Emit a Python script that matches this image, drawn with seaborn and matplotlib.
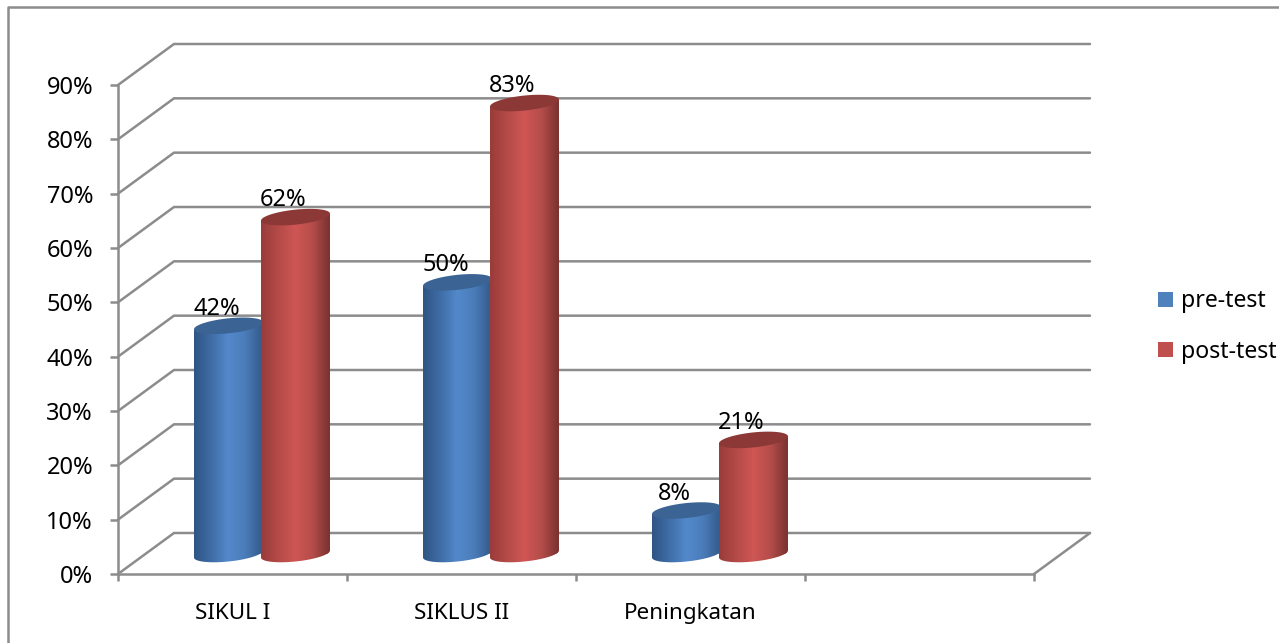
import numpy as np
import pandas as pd
import matplotlib
matplotlib.use("Agg")
import matplotlib.pyplot as plt
from matplotlib.lines import Line2D
from matplotlib.patches import Patch
from matplotlib.path import Path
import matplotlib.transforms as mtrans
import seaborn as sns

categories = ["SIKUL I", "SIKLUS II", "Peningkatan"]
axis_slots = categories + [""]
series_names = ["pre-test", "post-test"]
pre_test = [42, 50, 8]
post_test = [62, 83, 21]
y_ticks = list(range(0, 100, 10))

df = pd.DataFrame({
    "category": categories * 2,
    "series": [series_names[0]] * 3 + [series_names[1]] * 3,
    "value": pre_test + post_test,
})

sns.set_theme(style="white")
plt.rcParams["font.family"] = ["Noto Sans", "DejaVu Sans"]
plt.rcParams["text.color"] = "black"

W, H = 1279, 643
GRAY = "#8c8c8c"
LW = 1.8
FS = 17
fig = plt.figure(figsize=(W / 100, H / 100), dpi=100, facecolor="white")
ax = fig.add_axes([118 / W, 1 - 574 / H, (1034 - 118) / W, (574 - 85) / H])

base_colors = {"pre-test": "#4F81BD", "post-test": "#C0504D"}
sns.barplot(data=df, x="category", y="value", hue="series", order=axis_slots,
            hue_order=series_names, palette=base_colors, width=0.585, gap=0,
            saturation=1, legend=False, ax=ax, errorbar=None, zorder=3, linewidth=0)

ax.set_xlim(-0.5, 3.5)
ax.set_ylim(0, 90)
ax.set_xlabel("")
ax.set_ylabel("")

# oblique depth of the chart box, in data units
px_x = 4 / (1034 - 118)
px_y = 90 / (574 - 85)
depth_x, depth_y = 56 * px_x, 41 * px_y
bar_dx, bar_dy = 29.5 * px_x, 20 * px_y
ry = 7.5 * px_y
tilt = 3.5 * px_y

# walls
for v in y_ticks:
    ax.plot([-0.5, -0.5 + depth_x, 3.5 + depth_x], [v, v + depth_y, v + depth_y],
            color=GRAY, lw=LW, clip_on=False, zorder=1, solid_joinstyle="miter")
ax.plot([3.5, 3.5 + depth_x], [0, depth_y], color=GRAY, lw=LW, clip_on=False, zorder=1)

# axes
for s in ["top", "right"]:
    ax.spines[s].set_visible(False)
for s in ["left", "bottom"]:
    ax.spines[s].set_visible(True)
    ax.spines[s].set_color(GRAY)
    ax.spines[s].set_linewidth(LW)
    ax.spines[s].set_zorder(2.6)
ax.set_yticks(y_ticks, labels=[f"{v}%" for v in y_ticks])
ax.set_xticks(np.arange(-0.5, 4, 1), labels=[""] * 5)
ax.set_xticks(np.arange(4), labels=axis_slots, minor=True)
ax.tick_params(axis="y", left=True, length=6, width=LW, color=GRAY, pad=12,
               labelsize=FS, labelcolor="black")
ax.tick_params(axis="x", which="major", bottom=True, length=5, width=LW, color=GRAY)
ax.tick_params(axis="x", which="minor", bottom=False, length=0, pad=21,
               labelsize=16.2, labelcolor="black")

# gradient stops: edge, centre, edge
shades = {
    "pre-test": (["#2f5584", "#3f6da6", "#5389cc", "#4a7cb8", "#33598a"], "#3b6494"),
    "post-test": (["#9a3c3a", "#b44b48", "#cf5654", "#b44d4a", "#7a3230"], "#8c3836"),
}
stops = [0, 0.25, 0.5, 0.75, 1]


def rgb_ramp(hexes, n=80):
    arr = np.array([matplotlib.colors.to_rgb(c) for c in hexes])
    xs = np.linspace(0, 1, n)
    return np.stack([np.interp(xs, stops, arr[:, i]) for i in range(3)], axis=1)[None, :, :]


t_low = np.linspace(np.pi, 2 * np.pi, 60)
t_all = np.linspace(0, 2 * np.pi, 120)
z = 4
for name, container in zip(series_names, ax.containers):
    for bar in container:
        h = bar.get_height()
        if not np.isfinite(h) or h <= 0:
            bar.set_visible(False)
            continue
        half = bar.get_width() / 2
        rx = half * 1.03
        cx = bar.get_x() + half + bar_dx
        y0, y1 = bar_dy, h + bar_dy
        bx = cx + rx * np.cos(t_low)
        by = y0 + ry * np.sin(t_low) + tilt * np.cos(t_low)
        verts = np.vstack([
            [[cx - rx, y1 - tilt]],
            np.column_stack([bx, by]),
            [[cx + rx, y1 + tilt]],
            [[cx - rx, y1 - tilt]],
        ])
        body = Path(verts, closed=True)
        bar.set_transform(mtrans.Affine2D().translate(bar_dx, bar_dy) + ax.transData)
        bar.set_clip_path(body, ax.transData)
        bar.set_zorder(z)
        ramp, top = shades[name]
        im = ax.imshow(rgb_ramp(ramp), extent=[cx - rx, cx + rx, y0 - 3 * ry, y1 + 3 * ry],
                       aspect="auto", zorder=z + 0.1, interpolation="bilinear", clip_on=True)
        im.set_clip_path(body, ax.transData)
        ax.fill(cx + rx * np.cos(t_all), y1 + ry * np.sin(t_all) + tilt * np.cos(t_all),
                color=top, lw=0, zorder=z + 0.2, clip_on=False)
        ax.annotate(f"{h:.0f}%", (cx, y1), xytext=(-12, 17), textcoords="offset pixels",
                    ha="center", va="center", fontsize=FS, color="black", zorder=50,
                    annotation_clip=False)
        z += 1

ax.set_xlim(-0.5, 3.5)
ax.set_ylim(0, 90)

# legend
handles = [Patch(facecolor=base_colors[n], edgecolor="none", label=n) for n in series_names]
fig.legend(handles=handles, loc="center left", bbox_to_anchor=(1158 / W, 1 - 326.5 / H),
           frameon=False, fontsize=16.6, handlelength=0.65, handleheight=0.65,
           handletextpad=0.33, labelspacing=1.14, borderpad=0, borderaxespad=0)

# outer frame
fig.add_artist(Line2D([8 / W, 8 / W, 1], [0, 1 - 7 / H, 1 - 7 / H], color=GRAY, lw=1.8))

fig.savefig("out.png", dpi=100, facecolor="white")
